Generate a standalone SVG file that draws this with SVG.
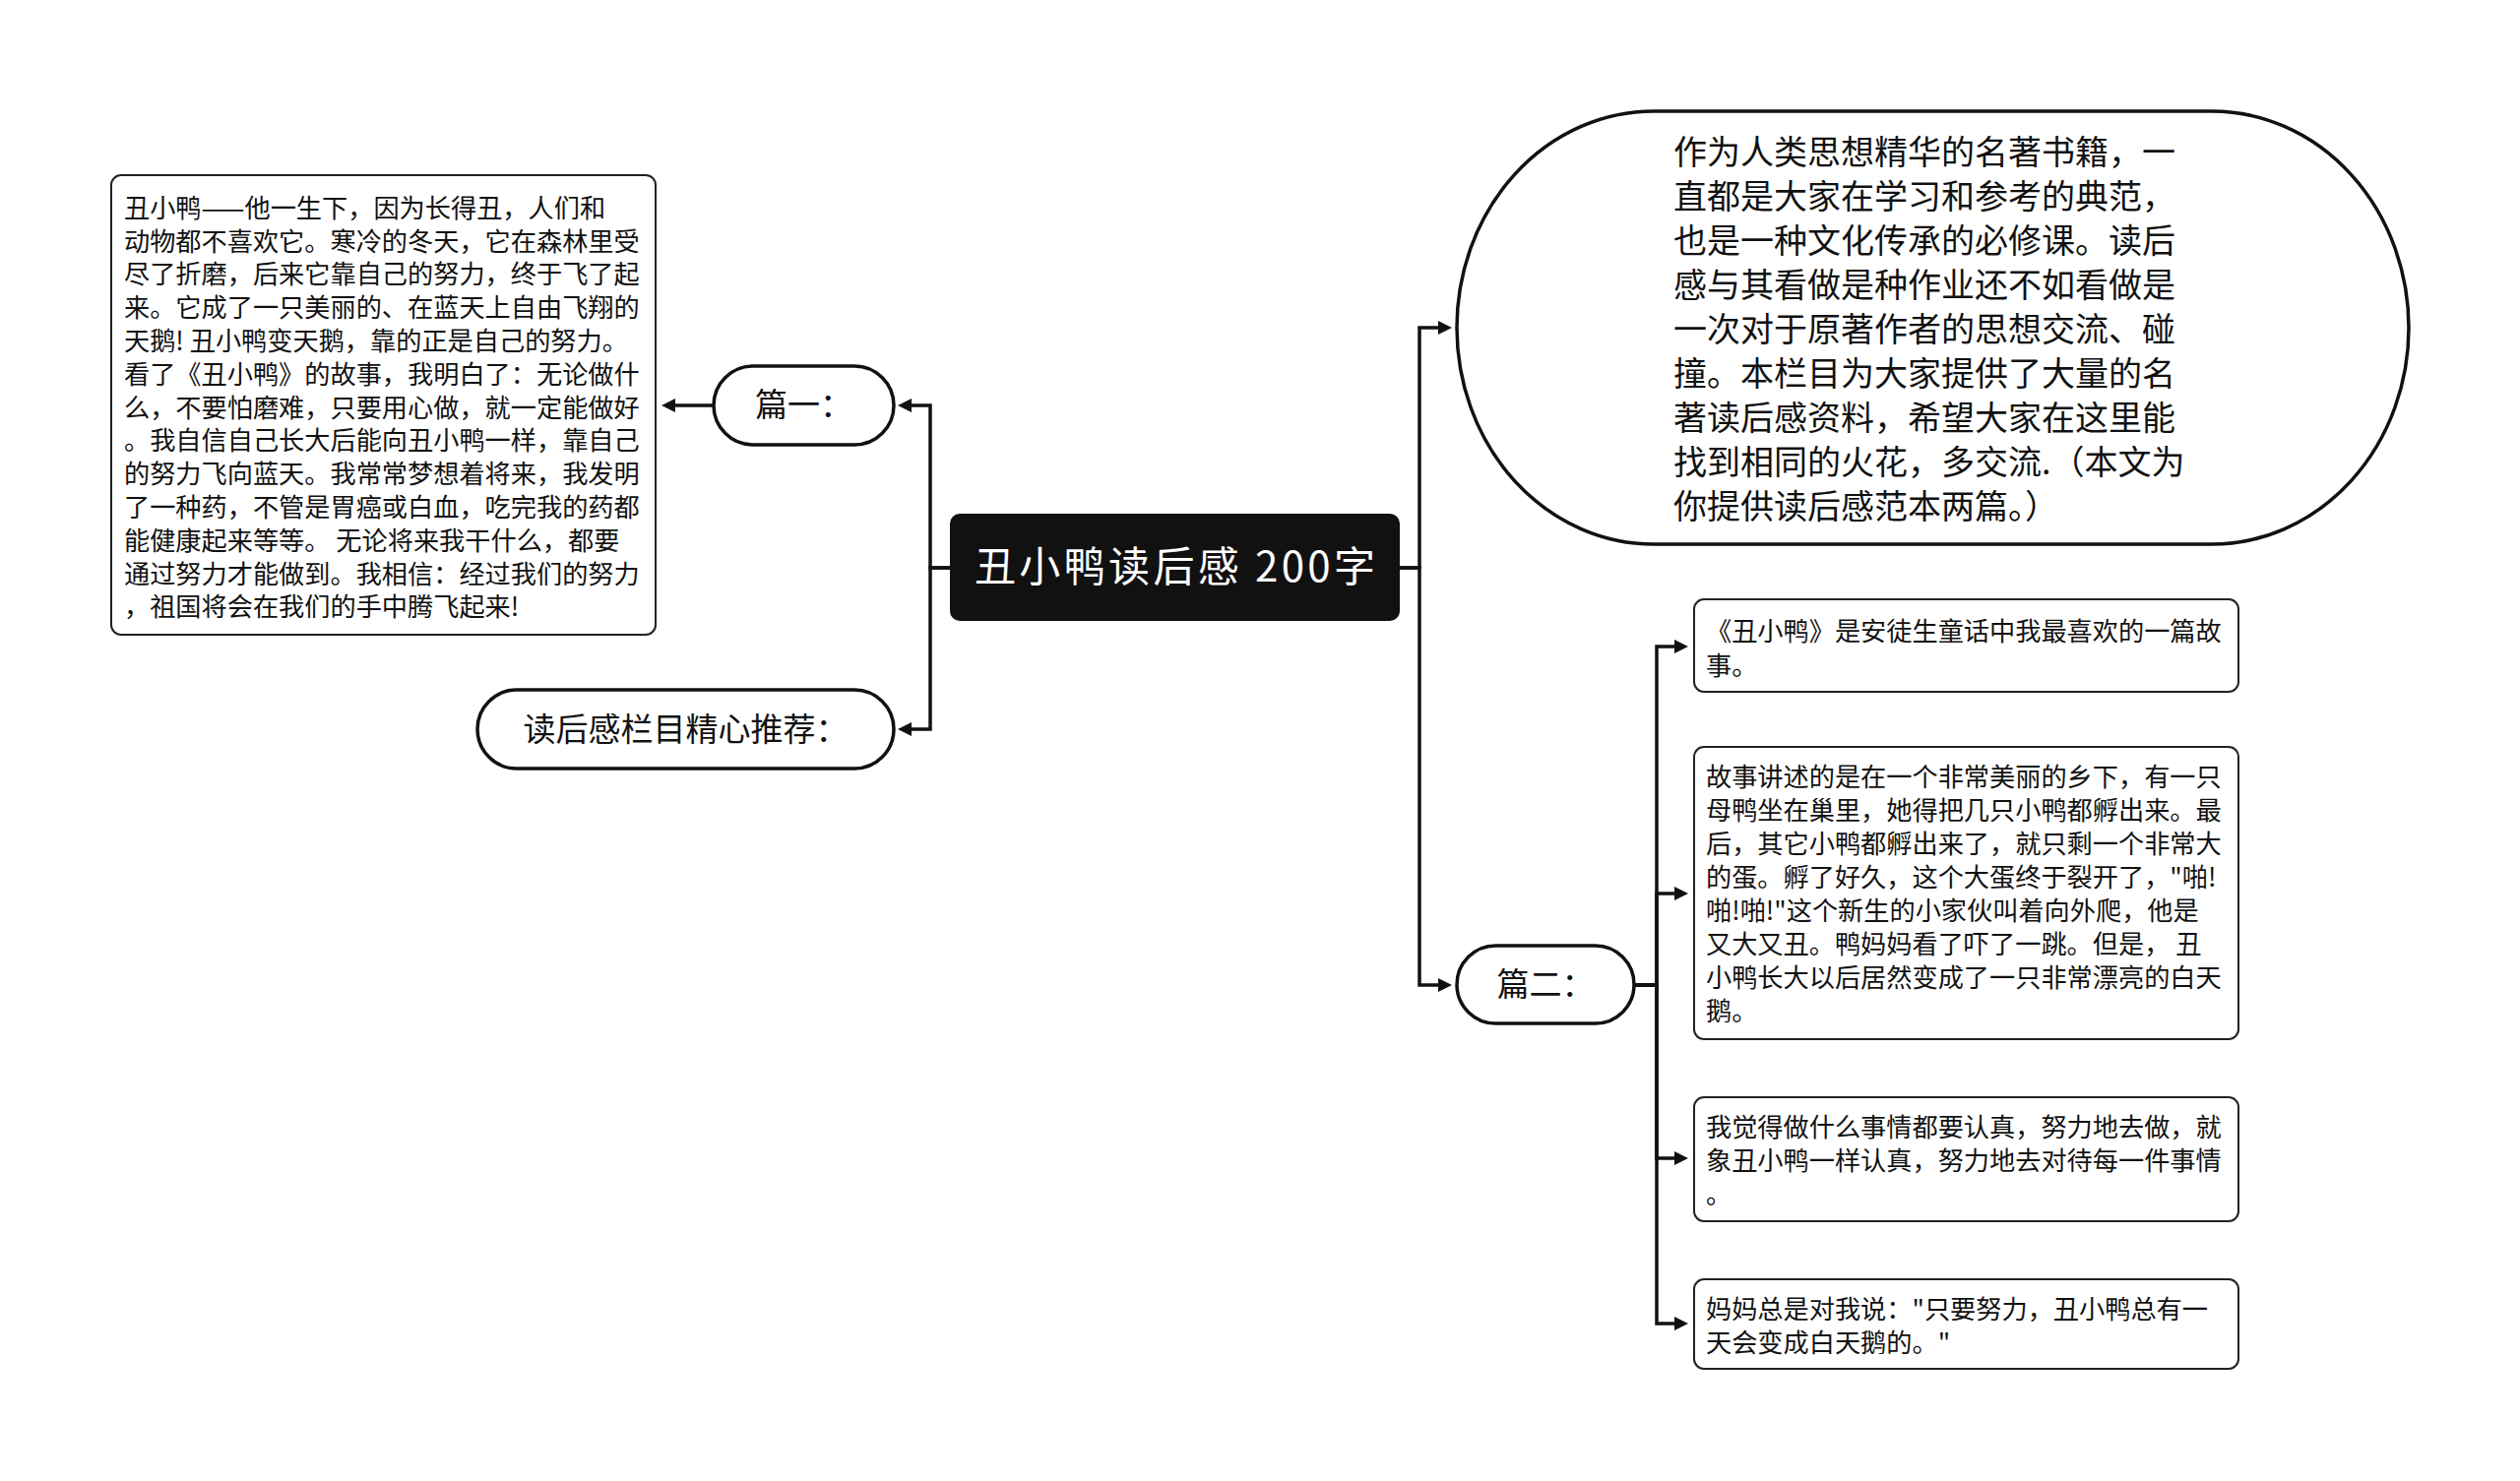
<svg xmlns="http://www.w3.org/2000/svg" width="2560" height="1505" viewBox="0 0 2560 1505">
<style>
  text { font-family: "Noto Sans CJK SC", "Noto Sans", sans-serif; fill: #111; white-space: pre; }
  .sm { font-size: 26.2px; }
  .md { font-size: 33px; }
  .lg { font-size: 34px; }
  .title { font-size: 42px; fill: #ffffff; }
  .pill { fill: #ffffff; stroke: #111; stroke-width: 3.5; }
  .box { fill: #ffffff; stroke: #222; stroke-width: 2; }
  .conn { fill: none; stroke: #111; stroke-width: 3.5; stroke-linejoin: miter; }
</style>
<defs>
  <marker id="arr" markerUnits="userSpaceOnUse" markerWidth="16" markerHeight="16" refX="0" refY="8" orient="auto">
    <path d="M0,1 L14,8 L0,15 Z" fill="#111"/>
  </marker>
</defs>
<rect width="2560" height="1505" fill="#ffffff"/>

<g id="connectors">
  <path class="conn" d="M965,577 H945 V412 H926" marker-end="url(#arr)"/>
  <path class="conn" d="M965,577 H945 V741 H926" marker-end="url(#arr)"/>
  <path class="conn" d="M725,412 H686" marker-end="url(#arr)"/>
  <path class="conn" d="M1422,577 H1442 V333 H1461" marker-end="url(#arr)"/>
  <path class="conn" d="M1422,577 H1442 V1001 H1461" marker-end="url(#arr)"/>
  <path class="conn" d="M1660,1001 H1683 V657 H1701" marker-end="url(#arr)"/>
  <path class="conn" d="M1660,1001 H1683 V908 H1701" marker-end="url(#arr)"/>
  <path class="conn" d="M1660,1001 H1683 V1177 H1701" marker-end="url(#arr)"/>
  <path class="conn" d="M1660,1001 H1683 V1345 H1701" marker-end="url(#arr)"/>
</g>

<g id="root">
  <rect x="965" y="522" width="457" height="109" rx="10" fill="#111"/>
  <text class="title" x="1193.5" y="591" text-anchor="middle" textLength="407" lengthAdjust="spacing">丑小鸭读后感 200字</text>
</g>

<g id="pian1">
  <rect class="pill" x="725" y="372" width="183" height="80" rx="40"/>
  <text class="md" x="816.5" y="423" text-anchor="middle">篇一：</text>
</g>

<g id="pian1-text">
  <rect class="box" x="113" y="178" width="553" height="467" rx="10"/>
  <text class="sm" x="126" y="221">丑小鸭——他一生下，因为长得丑，人们和</text>
  <text class="sm" x="126" y="255">动物都不喜欢它。寒冷的冬天，它在森林里受</text>
  <text class="sm" x="126" y="288">尽了折磨，后来它靠自己的努力，终于飞了起</text>
  <text class="sm" x="126" y="322">来。它成了一只美丽的、在蓝天上自由飞翔的</text>
  <text class="sm" x="126" y="356">天鹅! 丑小鸭变天鹅，靠的正是自己的努力。</text>
  <text class="sm" x="126" y="390">看了《丑小鸭》的故事，我明白了：无论做什</text>
  <text class="sm" x="126" y="424">么，不要怕磨难，只要用心做，就一定能做好</text>
  <text class="sm" x="126" y="457">。我自信自己长大后能向丑小鸭一样，靠自己</text>
  <text class="sm" x="126" y="491">的努力飞向蓝天。我常常梦想着将来，我发明</text>
  <text class="sm" x="126" y="525">了一种药，不管是胃癌或白血，吃完我的药都</text>
  <text class="sm" x="126" y="559">能健康起来等等。 无论将来我干什么，都要</text>
  <text class="sm" x="126" y="593">通过努力才能做到。我相信：经过我们的努力</text>
  <text class="sm" x="126" y="626">，祖国将会在我们的手中腾飞起来!</text>
</g>

<g id="recommend">
  <rect class="pill" x="485" y="701" width="423" height="80" rx="40"/>
  <text class="md" x="696.5" y="753" text-anchor="middle">读后感栏目精心推荐：</text>
</g>

<g id="intro">
  <rect class="pill" x="1480" y="113" width="967" height="440" rx="200" ry="220"/>
  <text class="lg" x="1700" y="167">作为人类思想精华的名著书籍，一</text>
  <text class="lg" x="1700" y="212">直都是大家在学习和参考的典范，</text>
  <text class="lg" x="1700" y="257">也是一种文化传承的必修课。读后</text>
  <text class="lg" x="1700" y="302">感与其看做是种作业还不如看做是</text>
  <text class="lg" x="1700" y="347">一次对于原著作者的思想交流、碰</text>
  <text class="lg" x="1700" y="392">撞。本栏目为大家提供了大量的名</text>
  <text class="lg" x="1700" y="437">著读后感资料，希望大家在这里能</text>
  <text class="lg" x="1700" y="482">找到相同的火花，多交流.（本文为</text>
  <text class="lg" x="1700" y="527">你提供读后感范本两篇。）</text>
</g>

<g id="pian2">
  <rect class="pill" x="1480" y="961" width="180" height="79" rx="39.5"/>
  <text class="md" x="1570" y="1012" text-anchor="middle">篇二：</text>
</g>

<g id="p2-a">
  <rect class="box" x="1721" y="609" width="553" height="94" rx="10"/>
  <text class="sm" x="1733" y="651">《丑小鸭》是安徒生童话中我最喜欢的一篇故</text>
  <text class="sm" x="1733" y="686">事。</text>
</g>

<g id="p2-b">
  <rect class="box" x="1721" y="759" width="553" height="297" rx="10"/>
  <text class="sm" x="1733" y="799">故事讲述的是在一个非常美丽的乡下，有一只</text>
  <text class="sm" x="1733" y="833">母鸭坐在巢里，她得把几只小鸭都孵出来。最</text>
  <text class="sm" x="1733" y="867">后，其它小鸭都孵出来了，就只剩一个非常大</text>
  <text class="sm" x="1733" y="901">的蛋。孵了好久，这个大蛋终于裂开了，"啪!</text>
  <text class="sm" x="1733" y="935">啪!啪!"这个新生的小家伙叫着向外爬，他是</text>
  <text class="sm" x="1733" y="969">又大又丑。鸭妈妈看了吓了一跳。但是， 丑</text>
  <text class="sm" x="1733" y="1003">小鸭长大以后居然变成了一只非常漂亮的白天</text>
  <text class="sm" x="1733" y="1037">鹅。</text>
</g>

<g id="p2-c">
  <rect class="box" x="1721" y="1115" width="553" height="126" rx="10"/>
  <text class="sm" x="1733" y="1155">我觉得做什么事情都要认真，努力地去做，就</text>
  <text class="sm" x="1733" y="1189">象丑小鸭一样认真，努力地去对待每一件事情</text>
  <text class="sm" x="1733" y="1223">。</text>
</g>

<g id="p2-d">
  <rect class="box" x="1721" y="1300" width="553" height="91" rx="10"/>
  <text class="sm" x="1733" y="1340">妈妈总是对我说："只要努力，丑小鸭总有一</text>
  <text class="sm" x="1733" y="1374">天会变成白天鹅的。"</text>
</g>
</svg>
